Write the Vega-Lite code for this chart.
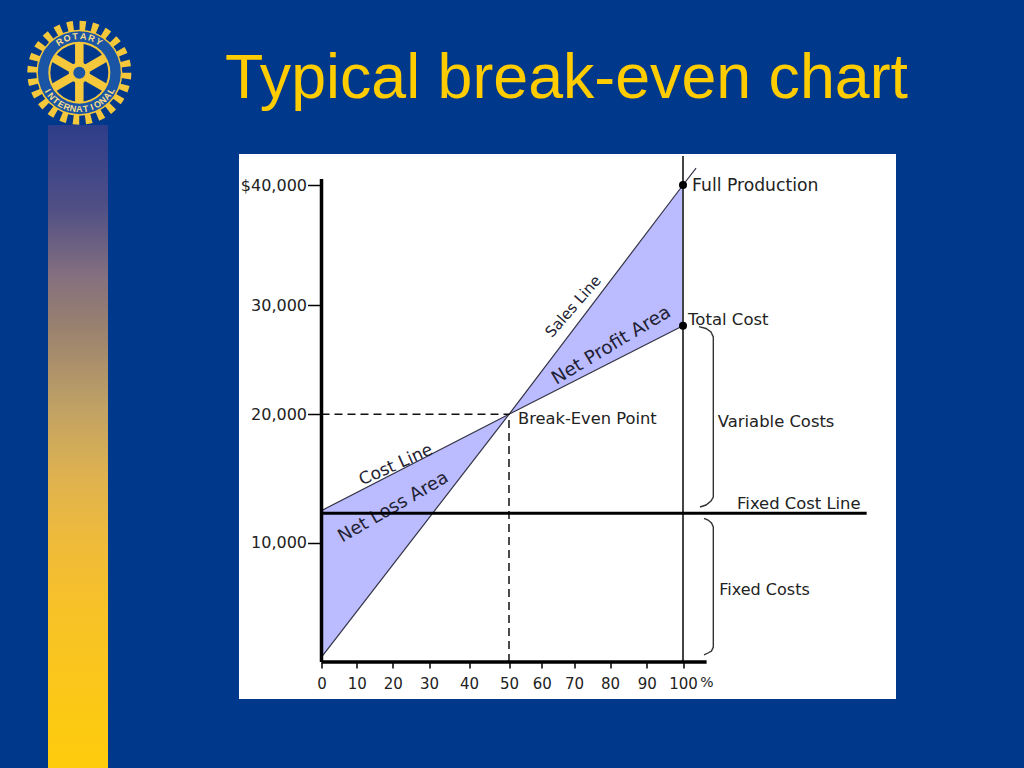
{
"$schema":"https://vega.github.io/schema/vega-lite/v6.json",
"width":361.5,"height":477,
"autosize":{"type":"none"},
"padding":{"left":321.5,"top":185,"right":341,"bottom":106},
"background":"#00388C",
"config":{"view":{"stroke":null}},
"datasets":{
"panel":[{"a":-23.44,"b":158.68,"c":-3101,"d":42583}],
"bar":[{"a":-77.7,"b":-60.65,"c":-8885,"d":45000}],
"area":[{"id":"loss","x":0,"lo":400,"hi":12500},{"id":"loss","x":50,"lo":20000,"hi":20000},{"id":"profit","x":50,"lo":20000,"hi":20000},{"id":"profit","x":100,"lo":28100,"hi":40000}],
"lines":[{"id":"sales","x":0,"y":400},{"id":"sales","x":50,"y":20000},{"id":"sales","x":100,"y":40000},{"id":"sales","x":103.6,"y":41400},{"id":"cost","x":0,"y":12500},{"id":"cost","x":50,"y":20000},{"id":"cost","x":100,"y":28100}],
"dashes":[{"a":0,"b":50,"c":20000,"d":20000},{"a":50,"b":50,"c":0,"d":20000}],
"braces":[{"id":"v","o":1,"x":104.41,"y":28015},{"id":"v","o":2,"x":106.34,"y":27850},{"id":"v","o":3,"x":107.71,"y":27530},{"id":"v","o":4,"x":108.35,"y":27070},{"id":"v","o":5,"x":108.35,"y":13559},{"id":"v","o":6,"x":107.71,"y":13248},{"id":"v","o":7,"x":106.34,"y":12936},{"id":"v","o":8,"x":104.68,"y":12780},{"id":"f","o":1,"x":105.79,"y":11900},{"id":"f","o":2,"x":106.89,"y":11768},{"id":"f","o":3,"x":107.85,"y":11534},{"id":"f","o":4,"x":108.35,"y":11223},{"id":"f","o":5,"x":108.35,"y":1257},{"id":"f","o":6,"x":107.85,"y":922},{"id":"f","o":7,"x":106.89,"y":754},{"id":"f","o":8,"x":105.79,"y":587}],
"dots":[{"x":100,"y":40000},{"x":100,"y":28100}],
"plain":[{"t":"Full Production","x":102.5,"y":40000,"s":17.2},{"t":"Total Cost","x":101.4,"y":28720,"s":16.5},{"t":"Break-Even Point","x":52.75,"y":19710,"s":16.3},{"t":"Variable Costs","x":109.6,"y":19500,"s":16.4},{"t":"Fixed Cost Line","x":114.9,"y":13115,"s":16.4},{"t":"Fixed Costs","x":110,"y":6120,"s":16}],
"rot":[{"t":"Sales Line","x":69.7,"y":29880,"a":-49,"s":15,"st":"normal"},{"t":"Net Profit Area","x":80.3,"y":26340,"a":-31,"s":18.5,"st":"italic"},{"t":"Cost Line","x":20.9,"y":16050,"a":-24,"s":17,"st":"italic"},{"t":"Net Loss Area","x":20.2,"y":12741,"a":-30,"s":18,"st":"italic"}],
"spokes":[{"a":-68.8,"b":-68.8,"c":51858,"d":46858},{"a":-76.18,"b":-61.42,"c":48108,"d":50608},{"a":-76.18,"b":-61.42,"c":50608,"d":48108}],
"hub":[{"x":-68.8,"y":49358}],
"letters":[{"t":"R","x":-74.37,"y":51925,"a":-32.5},{"t":"O","x":-72.27,"y":52225,"a":-19.5},{"t":"T","x":-69.97,"y":52383,"a":-6.5},{"t":"A","x":-67.63,"y":52383,"a":6.5},{"t":"R","x":-65.33,"y":52225,"a":19.5},{"t":"Y","x":-63.23,"y":51925,"a":32.5},{"t":"I","x":-77.78,"y":47837,"a":60},{"t":"N","x":-76.75,"y":47400,"a":50},{"t":"T","x":-75.47,"y":47025,"a":40},{"t":"E","x":-73.98,"y":46725,"a":30},{"t":"R","x":-72.35,"y":46500,"a":20},{"t":"N","x":-70.6,"y":46358,"a":10},{"t":"A","x":-68.8,"y":46316,"a":0},{"t":"T","x":-67,"y":46358,"a":-10},{"t":"I","x":-65.25,"y":46500,"a":-20},{"t":"O","x":-63.62,"y":46725,"a":-30},{"t":"N","x":-62.13,"y":47025,"a":-40},{"t":"A","x":-60.85,"y":47400,"a":-50},{"t":"L","x":-59.82,"y":47837,"a":-60}]
},
"encoding":{
"x":{"type":"quantitative","scale":{"domain":[0,10,20,30,40,50,60,70,80,90,100],"range":[0,35.2,71.2,107.5,147.5,187.5,220.2,252.5,288.5,325.2,361.5],"nice":false,"zero":false}},
"y":{"type":"quantitative","scale":{"domain":[0,10000,20000,30000,40000],"range":[477,357.7,229.3,120,0],"nice":false,"zero":false}}
},
"layer":[
{"data":{"name":"panel"},"mark":{"type":"rect","color":"#FFFFFF","clip":false},"encoding":{"x":{"field":"a","type":"quantitative","axis":{"zindex":1,"values":[0,10,20,30,40,50,60,70,80,90,100],"tickCount":30,"title":null,"domain":false,"grid":false,"tickColor":"#000000","tickWidth":1.5,"tickSize":6,"labelFont":"DejaVu Sans","labelFontSize":15,"labelColor":"#222222","labelPadding":8,"labelFlush":false,"labelOverlap":false}},"x2":{"field":"b"},"y":{"field":"c","type":"quantitative","axis":{"zindex":1,"values":[10000,20000,30000,40000],"title":null,"domain":false,"grid":false,"tickColor":"#000000","tickWidth":1.5,"tickSize":14,"labelFont":"DejaVu Sans","labelFontSize":16,"labelColor":"#222222","labelPadding":1,"labelFlush":false,"labelOverlap":false,"labelExpr":"datum.value==40000?'$40,000':format(datum.value,',')"}},"y2":{"field":"d"}}},
{"data":{"values":[{"t":"Typical break-even chart","x":-27.41,"y":47250}]},"mark":{"type":"text","font":"Liberation Sans","fontSize":62.7,"color":"#FFCC00","align":"left","baseline":"alphabetic"},"encoding":{"x":{"field":"x","type":"quantitative"},"y":{"field":"y","type":"quantitative"},"text":{"field":"t"}}},
{"data":{"name":"bar"},"mark":{"type":"rect","color":{"gradient":"linear","x1":0,"y1":0,"x2":0,"y2":1,"stops":[{"offset":0,"color":"#2E3D8A"},{"offset":0.13,"color":"#504F85"},{"offset":0.236,"color":"#85707F"},{"offset":0.31,"color":"#98806F"},{"offset":0.44,"color":"#C0A265"},{"offset":0.547,"color":"#DFB24F"},{"offset":0.65,"color":"#EFBB3A"},{"offset":0.754,"color":"#F7C227"},{"offset":1,"color":"#FFCC0C"}]}},"encoding":{"x":{"field":"a","type":"quantitative"},"x2":{"field":"b"},"y":{"field":"c","type":"quantitative"},"y2":{"field":"d"}}},
{"data":{"name":"hub"},"mark":{"type":"point","shape":"circle","size":8836,"filled":false,"stroke":"#F5C83C","strokeWidth":10,"strokeDash":[6.1,6.2],"opacity":1},"encoding":{"x":{"field":"x","type":"quantitative"},"y":{"field":"y","type":"quantitative"}}},
{"data":{"name":"hub"},"mark":{"type":"point","shape":"circle","size":7396,"filled":true,"color":"#F5C83C","opacity":1},"encoding":{"x":{"field":"x","type":"quantitative"},"y":{"field":"y","type":"quantitative"}}},
{"data":{"name":"hub"},"mark":{"type":"point","shape":"circle","size":6889,"filled":true,"color":"#1A55A5","opacity":1},"encoding":{"x":{"field":"x","type":"quantitative"},"y":{"field":"y","type":"quantitative"}}},
{"data":{"name":"hub"},"mark":{"type":"point","shape":"circle","size":3844,"filled":true,"color":"#F5C83C","opacity":1},"encoding":{"x":{"field":"x","type":"quantitative"},"y":{"field":"y","type":"quantitative"}}},
{"data":{"name":"hub"},"mark":{"type":"point","shape":"circle","size":3364,"filled":true,"color":"#00388C","opacity":1},"encoding":{"x":{"field":"x","type":"quantitative"},"y":{"field":"y","type":"quantitative"}}},
{"data":{"name":"spokes"},"mark":{"type":"rule","color":"#F5C83C","strokeWidth":8.5},"encoding":{"x":{"field":"a","type":"quantitative"},"x2":{"field":"b"},"y":{"field":"c","type":"quantitative"},"y2":{"field":"d"}}},
{"data":{"name":"hub"},"mark":{"type":"point","shape":"circle","size":441,"filled":true,"color":"#F5C83C","opacity":1},"encoding":{"x":{"field":"x","type":"quantitative"},"y":{"field":"y","type":"quantitative"}}},
{"data":{"name":"hub"},"mark":{"type":"point","shape":"circle","size":144,"filled":true,"color":"#1A55A5","opacity":1},"encoding":{"x":{"field":"x","type":"quantitative"},"y":{"field":"y","type":"quantitative"}}},
{"data":{"name":"letters"},"mark":{"type":"text","font":"Liberation Sans","fontWeight":"bold","fontSize":9,"color":"#F8DE8A","baseline":"middle","align":"center"},"encoding":{"x":{"field":"x","type":"quantitative"},"y":{"field":"y","type":"quantitative"},"text":{"field":"t"},"angle":{"field":"a","type":"quantitative","scale":null}}},
{"data":{"name":"area"},"mark":{"type":"area","color":"#BBBBFF","opacity":1},"encoding":{"x":{"field":"x","type":"quantitative"},"y":{"field":"lo","type":"quantitative"},"y2":{"field":"hi"},"detail":{"field":"id"}}},
{"data":{"name":"lines"},"mark":{"type":"line","color":"#333344","strokeWidth":1.2},"encoding":{"x":{"field":"x","type":"quantitative"},"y":{"field":"y","type":"quantitative"},"detail":{"field":"id"}}},
{"data":{"name":"dashes"},"mark":{"type":"rule","color":"#111111","strokeWidth":1.5,"strokeDash":[8,5]},"encoding":{"x":{"field":"a","type":"quantitative"},"x2":{"field":"b"},"y":{"field":"c","type":"quantitative"},"y2":{"field":"d"}}},
{"data":{"values":[{"x":100,"a":0,"b":42417}]},"mark":{"type":"rule","color":"#444444","strokeWidth":2},"encoding":{"x":{"field":"x","type":"quantitative"},"y":{"field":"a","type":"quantitative"},"y2":{"field":"b"}}},
{"data":{"name":"braces"},"mark":{"type":"line","color":"#333333","strokeWidth":1.4,"interpolate":"linear"},"encoding":{"x":{"field":"x","type":"quantitative"},"y":{"field":"y","type":"quantitative"},"detail":{"field":"id"},"order":{"field":"o","type":"quantitative"}}},
{"data":{"name":"rot"},"mark":{"type":"text","font":"DejaVu Sans","color":"#222233","align":"center","baseline":"middle"},"encoding":{"x":{"field":"x","type":"quantitative"},"y":{"field":"y","type":"quantitative"},"text":{"field":"t"},"angle":{"field":"a","type":"quantitative","scale":null},"size":{"field":"s","type":"quantitative","scale":null},"fontStyle":{"field":"st","type":"nominal","scale":null}}},
{"data":{"values":[{"a":0,"b":150.6,"y":12300}]},"mark":{"type":"rule","color":"#000000","strokeWidth":3},"encoding":{"x":{"field":"a","type":"quantitative"},"x2":{"field":"b"},"y":{"field":"y","type":"quantitative"}}},
{"data":{"values":[{"a":0,"b":106.5,"y":0}]},"mark":{"type":"rule","color":"#000000","strokeWidth":3.5},"encoding":{"x":{"field":"a","type":"quantitative"},"x2":{"field":"b"},"y":{"field":"y","type":"quantitative"}}},
{"data":{"values":[{"x":0,"a":0,"b":40500}]},"mark":{"type":"rule","color":"#000000","strokeWidth":3.5},"encoding":{"x":{"field":"x","type":"quantitative"},"y":{"field":"a","type":"quantitative"},"y2":{"field":"b"}}},
{"data":{"name":"dots"},"mark":{"type":"point","shape":"circle","filled":true,"size":64,"color":"#000000","opacity":1},"encoding":{"x":{"field":"x","type":"quantitative"},"y":{"field":"y","type":"quantitative"}}},
{"data":{"name":"plain"},"mark":{"type":"text","font":"DejaVu Sans","color":"#222222","align":"left","baseline":"middle","dy":1},"encoding":{"x":{"field":"x","type":"quantitative"},"y":{"field":"y","type":"quantitative"},"text":{"field":"t"},"size":{"field":"s","type":"quantitative","scale":null}}},
{"data":{"values":[{"t":"%","x":106.6,"y":-1760}]},"mark":{"type":"text","font":"DejaVu Sans","fontSize":14,"color":"#222222","align":"center","baseline":"middle"},"encoding":{"x":{"field":"x","type":"quantitative"},"y":{"field":"y","type":"quantitative"},"text":{"field":"t"}}}
]
}
